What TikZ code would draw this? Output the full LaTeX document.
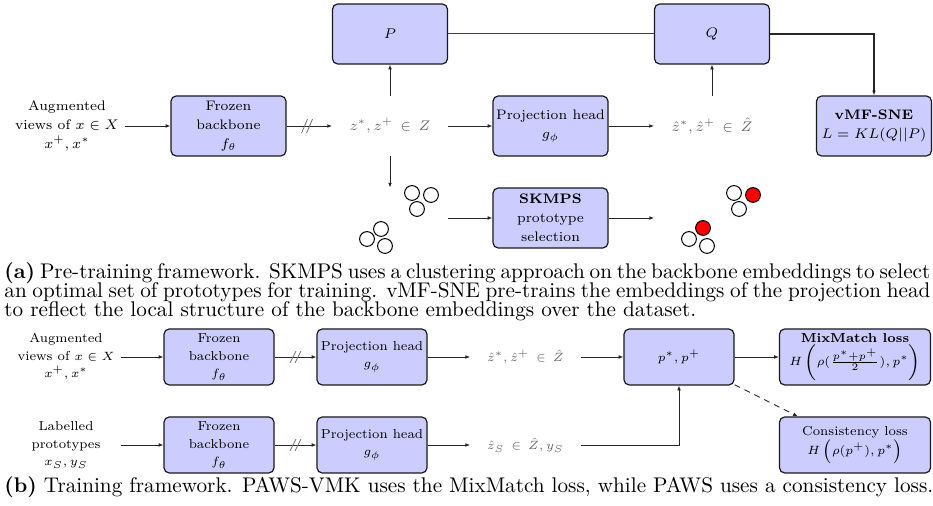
\documentclass[tikz,border=0pt]{standalone}
\usetikzlibrary{arrows.meta}
\newcommand\captionsetup{\fontsize{10.6}{9.6}\selectfont\lineskiplimit=-6pt\relax\lineskip=0pt\relax}
\begin{document}
\begin{tikzpicture}[x=0.5pt,y=-0.5pt,
  fonta/.style={font=\fontsize{6.9}{9.6}\selectfont},
  fontb/.style={font=\fontsize{6.5}{8.75}\selectfont},
  cella/.style={align=center, inner sep=0pt, minimum width=57.5pt, minimum height=30pt},
  cellb/.style={align=center, inner sep=0pt, minimum width=55pt, minimum height=28pt},
  box/.style={draw=black!90, line width=0.6pt, fill=blue!20, rounded corners=2.6pt},
  emb/.style={text=black!60},
  arr/.style={-{Latex[length=2.4pt,width=1.9pt]}, line width=0.45pt, draw=black!85},
  joinline/.style={line width=0.5pt, draw=black!75},
  brk/.style={line width=0.4pt, draw=black!55},
  dotw/.style={draw=black, line width=0.5pt, fill=white},
  dotr/.style={draw=black, line width=0.5pt, fill=red},
  captext/.style={inner sep=0pt, font=\captionsetup}
]
\useasboundingbox (0,0) rectangle (933,506);

% ---------- (a) pre-training ----------
\node[cella, box, fonta] (P) at (390,34) {$P$};
\node[cella, box, fonta] (Q) at (712,34) {$Q$};
\node[cella, fonta] (aug) at (67,126) {Augmented\\views of $x\in X$\\$x^+, x^*$};
\node[cella, box, fonta] (fb) at (228.5,126) {Frozen\\backbone\\$f_\theta$};
\node[cella, emb, fonta] (z) at (390,126) {$z^*, z^+ \,\in\, Z$};
\node[cella, box, fonta] (ph) at (550.5,126) {Projection head\\$g_\phi$};
\node[cella, emb, fonta] (zh) at (712,126) {$\hat z^*, \hat z^+ \,\in\, \hat Z$};
\node[cella, box, fonta] (vmf) at (874,126) {\textbf{vMF-SNE}\\$L = KL(Q||P)$};
\node[cella, fonta] (cl) at (390,218) {};
\node[cella, box, fonta] (sk) at (550.5,218) {\textbf{SKMPS}\\prototype\\selection};
\node[cella, fonta] (cr) at (712,218) {};

\draw[joinline] (P) -- (Q);
\draw[arr, line width=0.7pt] (Q) -| (vmf);
\draw[arr] (aug) -- (fb);
\draw[arr] (fb) -- coordinate[pos=0.45] (ka) (z);
\draw[brk] ([shift={(-5.5,7)}]ka) -- ([shift={(0.5,-7)}]ka)
           ([shift={(-0.5,7)}]ka) -- ([shift={(5.5,-7)}]ka);
\draw[arr] (z) -- (ph);
\draw[arr] (ph) -- (zh);
\draw[arr] (z) -- (P);
\draw[arr] (zh) -- (Q);
\draw[arr] (z) -- (cl);
\draw[arr] (cl) -- (sk);
\draw[arr] (sk) -- (cr);

% embedding clusters before selection
\foreach \dx/\dy in {22/-25, 41/-23, 27/-9, -9/11, -23/21, -5/28}
  \draw[dotw] ([shift={(\dx,\dy)}]cl.center) circle[radius=3.7pt];
% clusters after selection, chosen prototypes in red
\foreach \dx/\dy/\s in {22/-25/dotw, 41/-23/dotr, 27/-9/dotw, -9/10/dotr, -23/21/dotw, -5/28/dotw}
  \draw[\s] ([shift={(\dx,\dy)}]cr.center) circle[radius=3.7pt];

\node[captext, anchor=north west, text width=463pt, align=justify] (capa) at (4,262)
  {\textbf{(a)} Pre-training framework. SKMPS uses a clustering approach on the backbone embeddings to select an optimal set of prototypes for training. vMF-SNE pre-trains the embeddings of the projection head to reflect the local structure of the backbone embeddings over the dataset.};

% ---------- (b) training ----------
\node[cellb, fontb] (aug2) at (66,357) {Augmented\\views of $x\in X$\\$x^+, x^*$};
\node[cellb, box, fontb] (fb2) at (219,357) {Frozen\\backbone\\$f_\theta$};
\node[cellb, box, fontb] (ph2) at (372,357) {Projection head\\$g_\phi$};
\node[cellb, emb, fontb] (zh2) at (525.5,357) {$\hat z^*, \hat z^+ \,\in\, \hat Z$};
\node[cellb, box, fontb] (p) at (679,357) {$p^*, p^+$};
\node[cellb, box, fontb, minimum width=75.5pt] (mix) at (855,357)
  {\textbf{MixMatch loss}\\$H\left(\rho(\frac{p^*+p^+}{2}), p^*\right)$};
\node[cellb, fontb] (lab) at (66,445) {Labelled\\prototypes\\$x_S, y_S$};
\node[cellb, box, fontb] (fb3) at (219,445) {Frozen\\backbone\\$f_\theta$};
\node[cellb, box, fontb] (ph3) at (372,445) {Projection head\\$g_\phi$};
\node[cellb, emb, fontb] (zs) at (525.5,445) {$\hat z_S \,\in\, \hat Z, y_S$};
\node[cellb, box, fontb, minimum width=75.5pt] (cons) at (855,445)
  {Consistency loss\\$H\left(\rho(p^+), p^*\right)$};

\draw[arr] (aug2) -- (fb2);
\draw[arr] (fb2) -- coordinate[pos=0.5] (kb) (ph2);
\draw[brk] ([shift={(-5.5,6)}]kb) -- ([shift={(0.5,-6)}]kb)
           ([shift={(-0.5,6)}]kb) -- ([shift={(5.5,-6)}]kb);
\draw[arr] (ph2) -- (zh2);
\draw[arr] (zh2) -- (p);
\draw[arr] (p) -- (mix);
\draw[arr] (lab) -- (fb3);
\draw[arr] (fb3) -- coordinate[pos=0.5] (kc) (ph3);
\draw[brk] ([shift={(-5.5,6)}]kc) -- ([shift={(0.5,-6)}]kc)
           ([shift={(-0.5,6)}]kc) -- ([shift={(5.5,-6)}]kc);
\draw[arr] (ph3) -- (zs);
\draw[arr] (zs) -| (p);
\draw[arr, dashed, dash pattern=on 3pt off 2.5pt] (p) -- (cons);

\node[captext, anchor=base west] (capb) at (4,493)
  {\textbf{(b)} Training framework. PAWS-VMK uses the MixMatch loss, while PAWS uses a consistency loss.};
\end{tikzpicture}
\end{document}
